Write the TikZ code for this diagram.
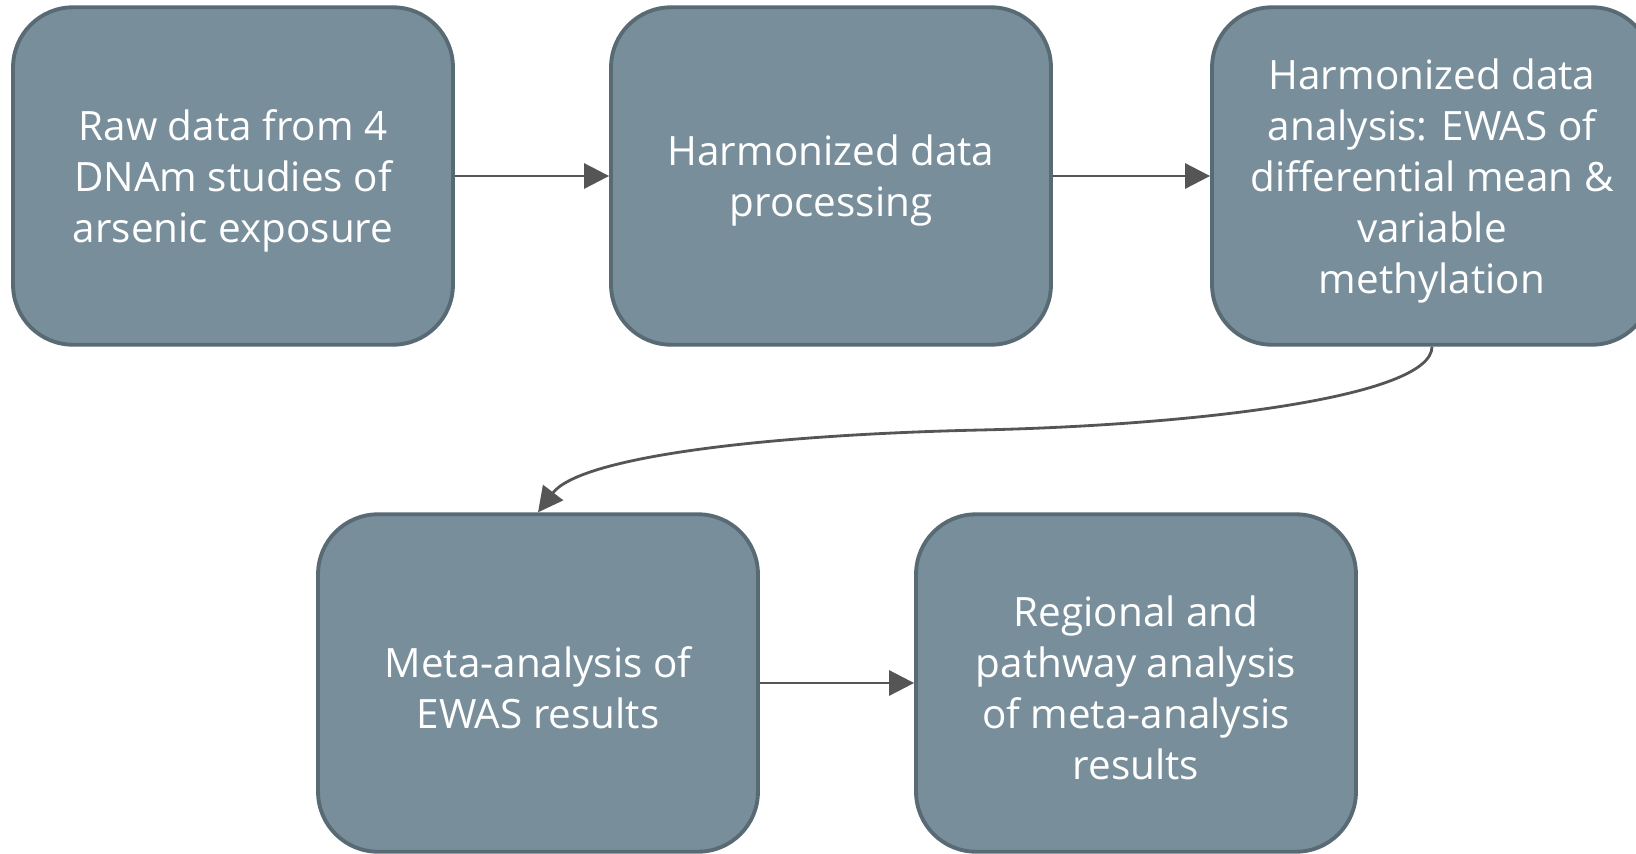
\documentclass[tikz,border=0pt]{standalone}
\usepackage{fontspec}
\setmainfont{Open Sans}
\usepackage{tikz}
\definecolor{grisCaja}{RGB}{120,143,155}
\definecolor{bordeCaja}{RGB}{88,106,116}
\definecolor{grisFlecha}{RGB}{85,85,85}
\usetikzlibrary{arrows.meta, positioning}
\newcommand{\puntal}{\rule{0pt}{23pt}}

\begin{document}
\begin{tikzpicture}[x=0.02cm, y=-0.02cm,
    paso/.style={draw=bordeCaja, fill=grisCaja, line width=2.2pt,
      rounded corners=1.2cm, minimum width=8.8cm, minimum height=6.75cm,
      text=white, align=center, font=\fontsize{23}{29.1}\selectfont},
    flecha/.style={-{Triangle[length=0.5cm, width=0.5cm]}, draw=grisFlecha,
      line width=1.6pt}]
  \useasboundingbox (0,0) rectangle (1636,853);

  % Fila superior
  \node[paso] (crudos) at (233,176) {\puntal Raw data from 4\\DNAm studies of\\arsenic exposure};
  \node[paso] (proceso) at (831,176) {\puntal Harmonized data\\processing};
  \node[paso] (analisis) at (1432,176) {\puntal Harmonized data\\analysis: EWAS of\\differential mean \&\\variable\\methylation};

  % Fila inferior
  \node[paso] (meta) at (538,683) {\puntal Meta-analysis of\\EWAS results};
  \node[paso] (regional) at (1136,683) {\puntal Regional and\\pathway analysis\\of meta-analysis\\results};

  % Flechas
  \draw[flecha] (crudos) -- (proceso);
  \draw[flecha] (proceso) -- (analisis);
  \coordinate (curva) at (980,430);
  \draw[flecha] (analisis.south) .. controls +(0,50) and +(220,-5) .. (curva)
    .. controls +(-220,5) and +(42,-55) .. (meta.north);
  \draw[flecha] (meta) -- (regional);
\end{tikzpicture}
\end{document}
